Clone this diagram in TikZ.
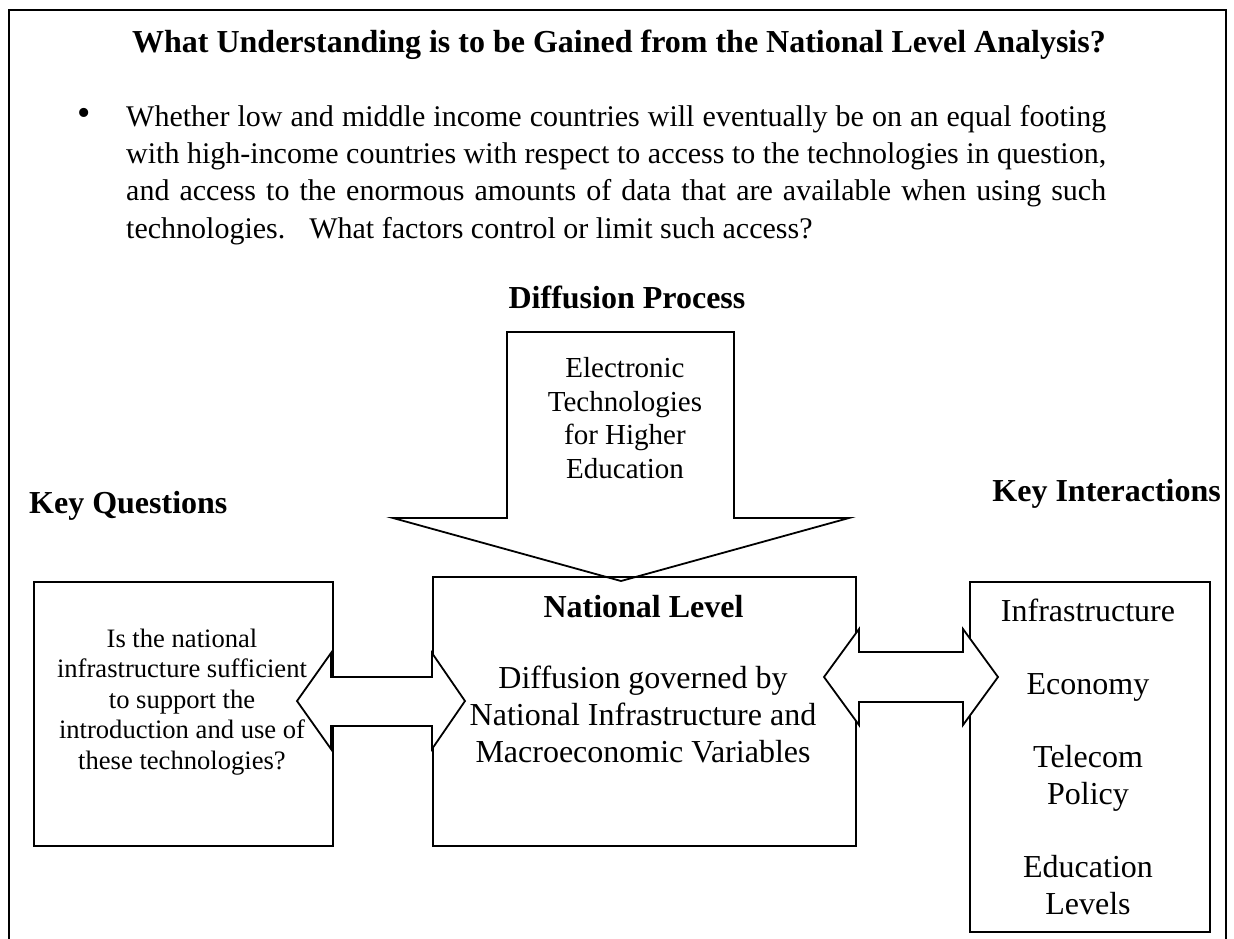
\documentclass[tikz,border=0pt]{standalone}
\usepackage{fontspec}
\setmainfont{Liberation Serif}
\begin{document}
\begin{tikzpicture}[x=1pt,y=-1pt,
  frameline/.style={line width=2.5pt, line cap=butt},
  box/.style={draw, line width=1.8pt, inner sep=0pt, anchor=north west},
  blockarrow/.style={draw, line width=1.8pt, line join=miter},
  fillarrow/.style={blockarrow, fill=white},
  heading/.style={inner sep=0pt, font=\fontsize{32}{37}\selectfont\bfseries},
  parafont/.style={inner sep=0pt, align=left, font=\fontsize{30}{37.3}\selectfont},
  bigtext/.style={inner sep=0pt, align=center, font=\fontsize{32}{37}\selectfont},
  midtext/.style={inner sep=0pt, align=center, font=\fontsize{29}{33.5}\selectfont},
  smalltext/.style={inner sep=0pt, align=center, font=\fontsize{26.6}{30.5}\selectfont},
  listtext/.style={inner sep=0pt, align=center, font=\fontsize{32}{36.6}\selectfont}
]
\useasboundingbox (0,0) rectangle (1234,938);

% open frame around the whole page
\draw[frameline] (9,940) -- (9,10) -- (1226,10) -- (1226,940);

% title and bullet paragraph
\node[heading, anchor=base] (title) at (619,52)
  {What Understanding is to be Gained from the National Level Analysis?};
\node[inner sep=0pt, anchor=center, font=\fontsize{38}{37}\selectfont] (bullet) at (84,117) {\textbullet};
\node[parafont, anchor=base west] (question) at (126,238)
  {\hbox to 980pt{Whether low and middle income countries will eventually be on an equal footing}\\
   \hbox to 980pt{with high-income countries with respect to access to the technologies in question,}\\
   \hbox to 980pt{and access to the enormous amounts of data that are available when using such}\\
   technologies.\hspace{24pt}What factors control or limit such access?};

% section headings
\node[heading, anchor=base] (diffhead) at (627,308) {Diffusion Process};
\node[heading, anchor=base west] (kqhead) at (29,513) {Key Questions};
\node[heading, anchor=base east] (kihead) at (1221,501) {Key Interactions};

% the three boxes
\node[box, minimum width=299pt, minimum height=264pt] (questions) at (33,581) {};
\node[box, minimum width=423pt, minimum height=269pt] (national) at (432,576) {};
\node[box, minimum width=240pt, minimum height=350pt] (interactions) at (969,581) {};

% block arrow coming down into the national box
\draw[blockarrow] (507,332) -- (734,332) -- (734,518) -- (849,518)
  -- (621,581) -- (393,518) -- (507,518) -- cycle;

% two-headed block arrows linking the boxes
\draw[fillarrow] (297,701) -- (331,653) -- (331,677) -- (432,677) -- (432,653)
  -- (465,701) -- (432,749) -- (432,726) -- (331,726) -- (331,749) -- cycle;
\draw[fillarrow] (824,677) -- (859,629) -- (859,652) -- (963,652) -- (963,629)
  -- (998,677) -- (963,725) -- (963,702) -- (859,702) -- (859,725) -- cycle;

% texts (anchored at the baseline of their last line)
\node[midtext, anchor=base] (tech) at (625,478)
  {Electronic\\Technologies\\for Higher\\Education};
\node[heading, anchor=base] (natlevel) at (643.5,617) {National Level};
\node[bigtext, anchor=base] (natbody) at (643,762)
  {Diffusion governed by\\National Infrastructure and\\Macroeconomic Variables};
\node[smalltext, anchor=base] (qtext) at (182,769)
  {Is the national\\infrastructure sufficient\\to support the\\introduction and use of\\these technologies?};
\node[listtext, anchor=base] (itext) at (1088,914)
  {Infrastructure\\[36.6pt]Economy\\[36.6pt]Telecom\\Policy\\[36.6pt]Education\\Levels};
\end{tikzpicture}
\end{document}
